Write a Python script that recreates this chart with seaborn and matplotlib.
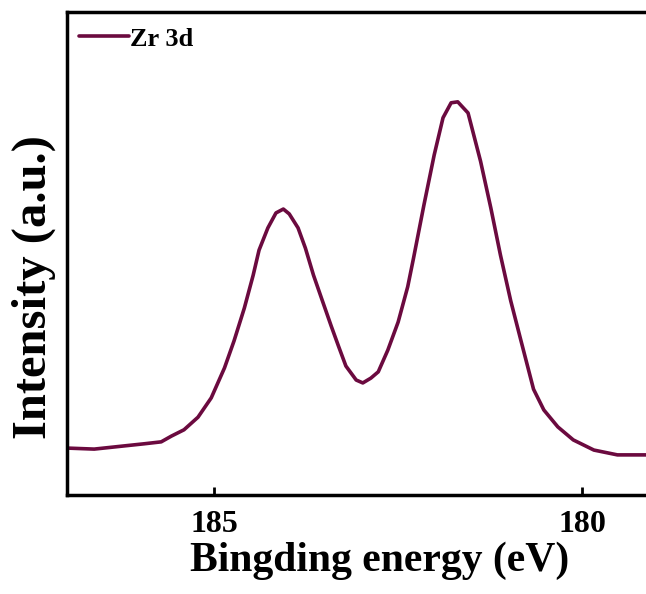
import matplotlib
matplotlib.use("Agg")
import matplotlib.pyplot as plt
import seaborn as sns
import pandas as pd

# Binding energy (eV) and intensity (a.u.)
energy = [186.98, 186.63, 186.26, 185.95, 185.72, 185.58, 185.41, 185.22, 185.04,
          184.86, 184.73, 184.59, 184.47, 184.39, 184.27, 184.16, 184.06, 183.98,
          183.86, 183.76, 183.65, 183.52, 183.41, 183.31, 183.21, 183.07, 182.98,
          182.87, 182.77, 182.64, 182.50, 182.37, 182.29, 182.15, 182.01, 181.89,
          181.78, 181.69, 181.55, 181.38, 181.24, 181.11, 180.97, 180.83, 180.66,
          180.52, 180.33, 180.12, 179.84, 179.52, 179.12]
intensity = [9.7, 9.5, 10.1, 10.6, 11.0, 12.2, 13.5, 16.1, 20.1,
             26.3, 31.9, 38.7, 45.5, 50.7, 55.3, 58.4, 59.2, 58.2,
             55.3, 51.1, 45.5, 39.8, 35.0, 30.8, 26.7, 23.8, 23.2,
             24.2, 25.5, 30.0, 35.8, 43.1, 49.1, 60.0, 70.4, 78.1,
             81.2, 81.4, 79.1, 69.1, 59.4, 49.7, 40.2, 31.9, 21.9,
             17.6, 14.1, 11.4, 9.3, 8.3, 8.3]
series_name = "Zr 3d"
xticks = [185, 180]

df = pd.DataFrame({"energy": energy, "intensity": intensity, "series": series_name})

sns.set_style("ticks")
plt.rcParams["font.family"] = ["Liberation Serif", "DejaVu Serif"]
plt.rcParams["font.weight"] = "bold"
plt.rcParams["text.color"] = "black"
plt.rcParams["axes.labelcolor"] = "black"
plt.rcParams["xtick.color"] = "black"
plt.rcParams["ytick.color"] = "black"

fig = plt.figure(figsize=(6.46, 5.94), dpi=100)
ax = fig.add_axes([0.1037, 0.1667, 0.9113, 0.8131])

sns.lineplot(data=df, x="energy", y="intensity", hue="series", palette=["#6B0A3F"],
             linewidth=2.6, ax=ax, sort=False)

ax.set_xlim(187, 179)
ax.set_ylim(0, 100)
ax.set_xticks(xticks)
ax.set_xticklabels([str(t) for t in xticks], fontsize=23, fontweight="bold")
ax.set_yticks([])
ax.tick_params(axis="x", direction="in", length=6, width=2, pad=11)
for s in ax.spines.values():
    s.set_linewidth(2.5)
    s.set_color("black")

ax.set_xlabel("Bingding energy (eV)", fontsize=30, fontweight="bold")
ax.set_ylabel("Intensity (a.u.)", fontsize=35, fontweight="bold")
ax.xaxis.set_label_coords(0.531, -0.097)
ax.yaxis.set_label_coords(-0.019, 0.431)

leg = ax.legend(loc="upper left", frameon=False, fontsize=19, handlelength=1.9,
                handletextpad=0.02, borderaxespad=0.2, borderpad=0.25,
                bbox_to_anchor=(0, 0.993))
for t in leg.get_texts():
    t.set_fontweight("bold")

fig.savefig("out.png", dpi=100)
